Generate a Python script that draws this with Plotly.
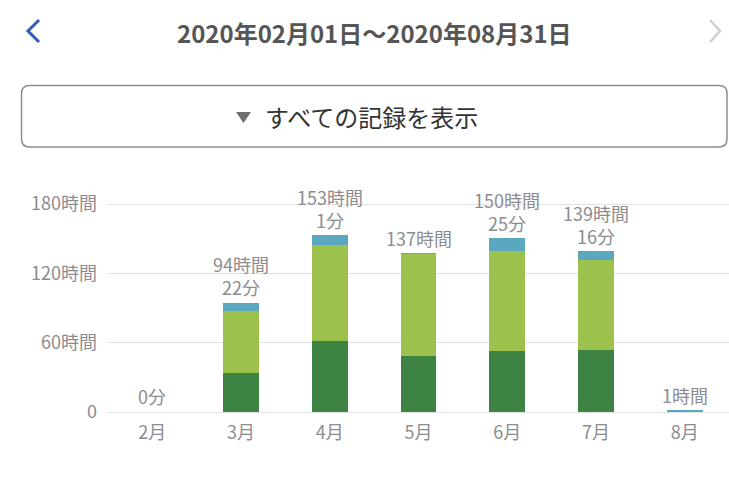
import plotly.graph_objects as go

months = ["2月", "3月", "4月", "5月", "6月", "7月", "8月"]
dark_green = [0, 34.0, 61.5, 48.5, 53.0, 54.0, 0]
light_green = [0, 53.0, 83.0, 88.3, 86.5, 77.5, 0]
blue = [0, 7.37, 8.52, 0.2, 10.92, 7.77, 1.0]
totals = [0, 94.37, 153.02, 137.0, 150.42, 139.27, 1.0]
total_labels = ["0分", "94時間<br>22分", "153時間<br>1分", "137時間",
                "150時間<br>25分", "139時間<br>16分", "1時間"]
y_tickvals = [0, 60, 120, 180]
y_ticktext = ["0", "60時間", "120時間", "180時間"]
header = "2020年02月01日〜2020年08月31日"
button_text = "すべての記録を表示"

W, H = 729, 483
ML, MR, MT, MB = 108, 0, 190, 71
PW, PH = W - ML - MR, H - MT - MB

def px(x):
    return (x - ML) / PW

def py(y):
    return (H - MB - y) / PH

FONT = "Noto Sans CJK JP"
GRAY = "#8c8c90"

fig = go.Figure()
for vals, col in [(dark_green, "#3d8443"), (light_green, "#9cc14c"), (blue, "#5aa8c0")]:
    fig.add_trace(go.Bar(x=months, y=vals, marker=dict(color=col, line=dict(width=0)),
                         width=0.405, hoverinfo="skip"))

annotations = []
for m, t, lab in zip(months, totals, total_labels):
    two = "<br>" in lab
    annotations.append(dict(x=m, y=t, xref="x", yref="y", text=lab, showarrow=False,
                            yanchor="middle", yshift=27 if two else 16, borderpad=0,
                            font=dict(family=FONT, size=18, color=GRAY)))

annotations.append(dict(x=px(374), y=py(32), xref="paper", yref="paper", text=header,
                        showarrow=False, xanchor="center", yanchor="middle",
                        font=dict(family=FONT, size=24, color="#555555", weight="bold")))
annotations.append(dict(x=px(371), y=py(116), xref="paper", yref="paper", text=button_text,
                        showarrow=False, xanchor="center", yanchor="middle",
                        font=dict(family=FONT, size=24, color="#333333")))

def rpath(x0, y0, x1, y1, r):
    pts = [
        f"M {px(x0+r)},{py(y0)}",
        f"L {px(x1-r)},{py(y0)}",
        f"Q {px(x1)},{py(y0)} {px(x1)},{py(y0+r)}",
        f"L {px(x1)},{py(y1-r)}",
        f"Q {px(x1)},{py(y1)} {px(x1-r)},{py(y1)}",
        f"L {px(x0+r)},{py(y1)}",
        f"Q {px(x0)},{py(y1)} {px(x0)},{py(y1-r)}",
        f"L {px(x0)},{py(y0+r)}",
        f"Q {px(x0)},{py(y0)} {px(x0+r)},{py(y0)}",
        "Z",
    ]
    return " ".join(pts)

shapes = [
    dict(type="path", xref="paper", yref="paper", path=rpath(21.5, 85.5, 727, 147, 8),
         line=dict(color="#8e8e8e", width=1.5), fillcolor="rgba(0,0,0,0)"),
    dict(type="path", xref="paper", yref="paper",
         path=f"M {px(236)},{py(112)} L {px(251)},{py(112)} L {px(243.5)},{py(123)} Z",
         line=dict(width=0), fillcolor="#6e6e6e"),
    dict(type="path", xref="paper", yref="paper",
         path=f"M {px(39)},{py(20)} L {px(28)},{py(31)} L {px(39)},{py(42)}",
         line=dict(color="#2f5fb3", width=3)),
    dict(type="path", xref="paper", yref="paper",
         path=f"M {px(710)},{py(20)} L {px(720)},{py(31)} L {px(710)},{py(42)}",
         line=dict(color="#cfcfd3", width=2.5)),
]

fig.update_layout(
    width=W, height=H, margin=dict(l=ML, r=MR, t=MT, b=MB),
    barmode="stack", showlegend=False,
    plot_bgcolor="white", paper_bgcolor="white",
    annotations=annotations, shapes=shapes,
    font=dict(family=FONT, color=GRAY),
)
fig.update_xaxes(type="category", range=[-0.5, 6.5], showgrid=False, showline=False,
                 ticks="", ticklabelstandoff=8,
                 tickfont=dict(family=FONT, size=18, color=GRAY), fixedrange=True)
fig.update_yaxes(range=[0, PH / (208 / 180)], tickvals=y_tickvals, ticktext=y_ticktext,
                 showgrid=True, gridcolor="#e2e2e4", gridwidth=1,
                 zeroline=True, zerolinecolor="#e2e2e4", zerolinewidth=1,
                 showline=False, ticks="", ticklabelstandoff=10,
                 tickfont=dict(family=FONT, size=18, color=GRAY), fixedrange=True)

fig.write_html("out.html")
